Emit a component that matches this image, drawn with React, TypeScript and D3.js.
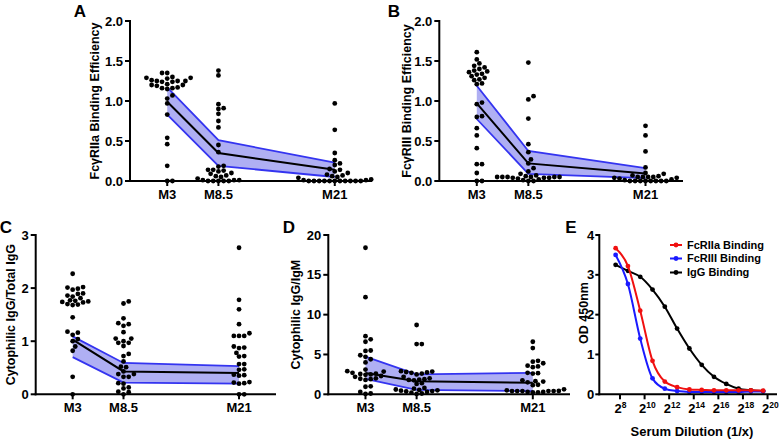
import React from 'react';
import * as d3 from 'd3';

const FONT = "'Liberation Sans', Arial, Helvetica, sans-serif";

// ---------- shared categories ----------
const timepoints = [3, 8.5, 21];
const timeLabels = ['M3', 'M8.5', 'M21'];

// ---------- Panel A: FcγRIIa binding efficiency ----------
const aM3 = [1.35, 1.35, 1.30, 1.29, 1.29, 1.28, 1.26, 1.25, 1.25, 1.25, 1.24, 1.24, 1.21, 1.20, 1.20, 1.19, 1.17, 1.16, 1.16, 1.15, 1.07, 1.03, 0.97, 0.83, 0.54, 0.46, 0.19, 0, 0];
const aM85 = [1.38, 1.32, 0.96, 0.91, 0.90, 0.84, 0.75, 0.67, 0.45, 0.36, 0.19, 0.18, 0.14, 0.14, 0.13, 0.12, 0.10, 0.09, 0.07, 0.06, 0.05, 0.03, 0.01, 0.01, 0.01, 0, 0, 0, 0, 0];
const aM21 = [0.97, 0.64, 0.35, 0.26, 0.22, 0.20, 0.15, 0.14, 0.12, 0.10, 0.08, 0.07, 0.06, 0.05, 0.04, 0.02, 0.01, 0.01, 0, 0, 0, 0, 0, 0, 0, 0, 0, 0, 0];
const aMean = [0.99, 0.35, 0.14];
const aLow = [0.83, 0.19, 0.05];
const aHigh = [1.17, 0.51, 0.23];

// ---------- Panel B: FcγRIII binding efficiency ----------
const bM3 = [1.61, 1.52, 1.47, 1.44, 1.42, 1.40, 1.38, 1.37, 1.36, 1.34, 1.33, 1.31, 1.29, 1.27, 1.26, 1.22, 1.21, 0.98, 0.96, 0.81, 0.80, 0.66, 0.57, 0.41, 0.21, 0.21, 0.10, 0, 0];
const bM85 = [1.48, 1.06, 1.02, 0.78, 0.46, 0.36, 0.27, 0.22, 0.16, 0.12, 0.09, 0.07, 0.06, 0.05, 0.05, 0.05, 0.05, 0.05, 0.05, 0.04, 0.04, 0.04, 0.03, 0.02, 0.01, 0, 0];
const bM21 = [0.69, 0.57, 0.37, 0.17, 0.10, 0.09, 0.07, 0.06, 0.05, 0.05, 0.05, 0.05, 0.04, 0.04, 0.03, 0.02, 0.01, 0, 0, 0, 0, 0, 0, 0, 0];
const bMean = [0.97, 0.22, 0.095];
const bLow = [0.775, 0.09, 0.035];
const bHigh = [1.19, 0.375, 0.16];

// ---------- Panel C: Cytophilic IgG / Total IgG ----------
const cM3 = [2.27, 2.02, 2.01, 1.99, 1.97, 1.90, 1.89, 1.86, 1.84, 1.81, 1.77, 1.76, 1.75, 1.74, 1.73, 1.70, 1.69, 1.68, 1.45, 1.18, 1.16, 1.12, 1.04, 1.0, 0.90, 0.82, 0.33, 0];
const cM85 = [1.75, 1.71, 1.43, 1.34, 1.32, 1.29, 1.17, 1.05, 1.05, 1.0, 0.97, 0.97, 0.91, 0.76, 0.72, 0.62, 0.52, 0.51, 0.43, 0.38, 0.38, 0.33, 0.33, 0.21, 0.20, 0.13, 0.11, 0.05, 0.04, 0];
const cM21 = [2.76, 1.78, 1.60, 1.32, 1.15, 1.10, 1.10, 1.10, 0.90, 0.88, 0.87, 0.78, 0.72, 0.71, 0.57, 0.57, 0.47, 0.46, 0.37, 0.36, 0.35, 0.23, 0.22, 0.21, 0.20, 0, 0];
const cMean = [1.03, 0.43, 0.40];
const cLow = [0.70, 0.22, 0.20];
const cHigh = [1.09, 0.59, 0.53];

// ---------- Panel D: Cytophilic IgG / IgM ----------
const dM3 = [18.4, 12.2, 7.3, 6.9, 6.6, 5.5, 5.45, 4.9, 4.7, 4.4, 4.0, 3.1, 2.9, 2.85, 2.7, 2.6, 2.55, 2.5, 2.45, 2.3, 2.2, 2.0, 1.95, 1.9, 1.8, 1.0, 0.95, 0.3, 0.1, 0.05];
const dM85 = [8.7, 6.3, 6.3, 2.9, 2.85, 2.8, 2.75, 2.7, 2.6, 2.5, 2.2, 2.0, 1.9, 1.85, 1.8, 1.75, 1.4, 1.3, 0.8, 0.7, 0.6, 0.55, 0.5, 0.45, 0.4, 0.35, 0.3, 0.2, 0.1, 0.05];
const dM21 = [6.6, 5.8, 4.2, 4.1, 3.9, 3.6, 3.5, 3.4, 2.7, 2.65, 2.6, 1.75, 1.65, 1.6, 1.5, 1.2, 1.15, 0.63, 0.5, 0.42, 0.4, 0.4, 0.4, 0.4, 0.4, 0.3, 0.3, 0.25, 0.25];
const dMean = [2.68, 1.65, 1.45];
const dLow = [1.95, 0.55, 0.40];
const dHigh = [4.72, 2.5, 2.7];

// ---------- Panel E: ELISA titration ----------
const dilutions = [200, 400, 800, 1600, 3200, 6400, 12800, 25600, 51200, 102400, 204800, 409600, 819200];
const fcRIIa = [3.67, 3.22, 2.10, 0.84, 0.32, 0.18, 0.12, 0.11, 0.10, 0.10, 0.10, 0.10, 0.09];
const fcRIII = [3.50, 2.77, 1.40, 0.40, 0.14, 0.08, 0.06, 0.06, 0.06, 0.06, 0.06, 0.07, 0.07];
const igG = [3.25, 3.10, 2.95, 2.63, 2.20, 1.65, 1.15, 0.74, 0.44, 0.26, 0.14, 0.10, 0.08];
const eTickExponents = [8, 10, 12, 14, 16, 18, 20];
const eYTicks = [0, 1, 2, 3, 4];
const eSeriesNames = ['FcRIIa Binding', 'FcRIII Binding', 'IgG Binding'];
const eSeriesColors = ['#f01010', '#1a1aff', '#000000'];

const BAND_FILL = '#afaff3';
const BAND_EDGE = '#3434f0';

type Box = { left: number; right: number; top: number; bottom: number };

function beeswarm(values: number[], y: (v: number) => number, cx: number, s: number) {
  const pts = values.map((v) => ({ v, y: y(v), x: cx })).sort((a, b) => a.v - b.v);
  const placed: { x: number; y: number }[] = [];
  const h = s / 2;
  const minD = s * 0.85;
  for (const p of pts) {
    for (let k = 0; k < 80; k++) {
      const off = k === 0 ? 0 : (k % 2 === 1 ? 1 : -1) * Math.ceil(k / 2) * h;
      const x = cx + off;
      if (placed.every((q) => (q.x - x) ** 2 + (q.y - p.y) ** 2 >= minD ** 2)) {
        p.x = x;
        break;
      }
    }
    placed.push(p);
  }
  return pts;
}

function ScatterPanel(props: {
  box: Box;
  yMax: number;
  yTicks: number[];
  fmt: (n: number) => string;
  groups: number[][];
  mean: number[];
  low: number[];
  high: number[];
  yTitle: React.ReactNode;
  titleX: number;
  label: string;
  labelX: number;
  labelY: number;
}) {
  const { box, yMax, yTicks, fmt, groups, mean, low, high, yTitle, titleX, label, labelX, labelY } = props;
  const x = d3.scaleLinear().domain([-1, 25]).range([box.left, box.right]);
  const y = d3.scaleLinear().domain([0, yMax]).range([box.bottom, box.top]);
  const area = d3
    .area<number>()
    .x((_, i) => x(timepoints[i]))
    .y0((_, i) => y(low[i]))
    .y1((_, i) => y(high[i]));
  const line = d3
    .line<number>()
    .x((_, i) => x(timepoints[i]))
    .y((d) => y(d));
  const cy = (box.top + box.bottom) / 2;
  return (
    <g>
      <text x={labelX} y={labelY} fontSize={17} fontWeight="bold" textAnchor="middle" fontFamily={FONT}>
        {label}
      </text>
      <path d={area(mean) || ''} fill={BAND_FILL} />
      <path d={line(low) || ''} fill="none" stroke={BAND_EDGE} strokeWidth={1.8} />
      <path d={line(high) || ''} fill="none" stroke={BAND_EDGE} strokeWidth={1.8} />
      <path d={line(mean) || ''} fill="none" stroke="#000" strokeWidth={2} />
      {groups.map((g, gi) =>
        beeswarm(g, y, x(timepoints[gi]), 5.2).map((p, i) => (
          <circle key={`${gi}-${i}`} cx={p.x} cy={p.y} r={2.4} fill="#000" />
        ))
      )}
      {/* axes */}
      <line x1={box.left} x2={box.left} y1={box.top - 1} y2={box.bottom + 1} stroke="#000" strokeWidth={2} />
      <line x1={box.left - 1} x2={box.right} y1={box.bottom} y2={box.bottom} stroke="#000" strokeWidth={2} />
      {yTicks.map((t) => (
        <g key={t}>
          <line x1={box.left - 5} x2={box.left} y1={y(t)} y2={y(t)} stroke="#000" strokeWidth={2} />
          <text x={box.left - 7} y={y(t)} dy="0.35em" textAnchor="end" fontSize={13} fontWeight="bold" fontFamily={FONT}>
            {fmt(t)}
          </text>
        </g>
      ))}
      {timepoints.map((t, i) => (
        <g key={t}>
          <line x1={x(t)} x2={x(t)} y1={box.bottom} y2={box.bottom + 5} stroke="#000" strokeWidth={2} />
          <text x={x(t)} y={box.bottom + 18} textAnchor="middle" fontSize={13} fontWeight="bold" fontFamily={FONT}>
            {timeLabels[i]}
          </text>
        </g>
      ))}
      <text
        transform={`translate(${titleX},${cy}) rotate(-90)`}
        dy="0.35em"
        textAnchor="middle"
        fontSize={12.5}
        fontWeight="bold"
        fontFamily={FONT}
      >
        {yTitle}
      </text>
    </g>
  );
}

function TitrationPanel() {
  const box: Box = { left: 599.3, right: 777, top: 235, bottom: 394.3 };
  const x = d3.scaleLog().base(2).domain([2 ** 6.316, 2 ** 20.77]).range([box.left, box.right]);
  const y = d3.scaleLinear().domain([0, 4]).range([box.bottom, box.top]);
  const series = [igG, fcRIII, fcRIIa];
  const seriesColor = [eSeriesColors[2], eSeriesColors[1], eSeriesColors[0]];
  const line = d3
    .line<number>()
    .x((_, i) => x(dilutions[i]))
    .y((d) => y(d))
    .curve(d3.curveMonotoneX);
  const legendY = [245, 258.5, 272.5];
  return (
    <g>
      <text x={571} y={233} fontSize={17} fontWeight="bold" textAnchor="middle" fontFamily={FONT}>
        E
      </text>
      {series.map((s, si) => (
        <g key={si}>
          <path d={line(s) || ''} fill="none" stroke={seriesColor[si]} strokeWidth={2} />
          {s.map((v, i) => (
            <circle key={i} cx={x(dilutions[i])} cy={y(v)} r={2.4} fill={seriesColor[si]} />
          ))}
        </g>
      ))}
      <line x1={box.left} x2={box.left} y1={box.top - 1} y2={box.bottom + 1} stroke="#000" strokeWidth={2} />
      <line x1={box.left - 1} x2={box.right} y1={box.bottom} y2={box.bottom} stroke="#000" strokeWidth={2} />
      {eYTicks.map((t) => (
        <g key={t}>
          <line x1={box.left - 4} x2={box.left} y1={y(t)} y2={y(t)} stroke="#000" strokeWidth={2} />
          <text x={box.left - 5} y={y(t)} dy="0.35em" textAnchor="end" fontSize={13} fontWeight="bold" fontFamily={FONT}>
            {t}
          </text>
        </g>
      ))}
      {eTickExponents.map((e) => (
        <g key={e}>
          <line x1={x(2 ** e)} x2={x(2 ** e)} y1={box.bottom} y2={box.bottom + 5} stroke="#000" strokeWidth={2} />
          <text x={x(2 ** e) - 5.5} y={box.bottom + 19} fontSize={13} fontWeight="bold" fontFamily={FONT}>
            2
            <tspan dy={-5} fontSize={8.5}>
              {e}
            </tspan>
          </text>
        </g>
      ))}
      <text x={692} y={436} textAnchor="middle" fontSize={13} fontWeight="bold" fontFamily={FONT}>
        Serum Dilution (1/x)
      </text>
      <text
        transform={`translate(584,313) rotate(-90)`}
        dy="0.35em"
        textAnchor="middle"
        fontSize={12.5}
        fontWeight="bold"
        fontFamily={FONT}
      >
        OD 450nm
      </text>
      {eSeriesNames.map((n, i) => (
        <g key={n}>
          <line x1={670} x2={682} y1={legendY[i]} y2={legendY[i]} stroke={eSeriesColors[i]} strokeWidth={2} />
          <circle cx={676} cy={legendY[i]} r={2.4} fill={eSeriesColors[i]} />
          <text x={687} y={legendY[i]} dy="0.36em" fontSize={11} fontWeight="bold" fontFamily={FONT}>
            {n}
          </text>
        </g>
      ))}
    </g>
  );
}

const f1 = d3.format('.1f');
const f0 = d3.format('d');

export default function App() {
  return (
    <svg
      width={780}
      height={440}
      viewBox="0 0 780 440"
      style={{ position: 'absolute', left: 0, top: 0, background: '#fff' }}
    >
      <rect width={780} height={440} fill="#fff" />
      <ScatterPanel
        box={{ left: 130, right: 372, top: 21, bottom: 181 }}
        yMax={2}
        yTicks={[0, 0.5, 1, 1.5, 2]}
        fmt={f1}
        groups={[aM3, aM85, aM21]}
        mean={aMean}
        low={aLow}
        high={aHigh}
        yTitle={'FcγRIIa Binding Efficiency'}
        titleX={95}
        label="A"
        labelX={80}
        labelY={17}
      />
      <ScatterPanel
        box={{ left: 439.3, right: 683, top: 21, bottom: 181 }}
        yMax={2}
        yTicks={[0, 0.5, 1, 1.5, 2]}
        fmt={f1}
        groups={[bM3, bM85, bM21]}
        mean={bMean}
        low={bLow}
        high={bHigh}
        yTitle={'FcγRIII Binding Efficiency'}
        titleX={407}
        label="B"
        labelX={394}
        labelY={17}
      />
      <ScatterPanel
        box={{ left: 35.7, right: 276, top: 235, bottom: 394.3 }}
        yMax={3}
        yTicks={[0, 1, 2, 3]}
        fmt={f0}
        groups={[cM3, cM85, cM21]}
        mean={cMean}
        low={cLow}
        high={cHigh}
        yTitle={'Cytophilic IgG/Total IgG'}
        titleX={11}
        label="C"
        labelX={6}
        labelY={233}
      />
      <ScatterPanel
        box={{ left: 328.3, right: 570, top: 235, bottom: 394.3 }}
        yMax={20}
        yTicks={[0, 5, 10, 15, 20]}
        fmt={f0}
        groups={[dM3, dM85, dM21]}
        mean={dMean}
        low={dLow}
        high={dHigh}
        yTitle={'Cytophilic IgG/IgM'}
        titleX={296}
        label="D"
        labelX={289}
        labelY={233}
      />
      <TitrationPanel />
    </svg>
  );
}
